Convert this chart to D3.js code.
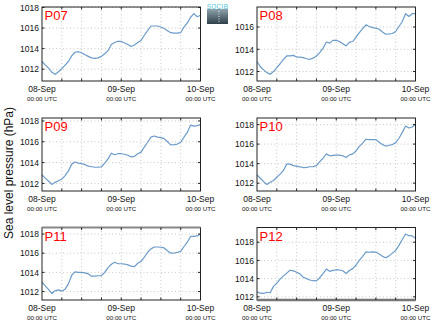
<!DOCTYPE html>
<html><head><meta charset="utf-8">
<script src="https://cdn.jsdelivr.net/npm/d3@7"></script>
<style>
body{margin:0;background:#fff;}
svg{display:block;font-family:"Liberation Sans",Arial,sans-serif;}
</style></head><body>
<svg id="c" width="434" height="327"></svg>
<script>
const panelNames = ["P07","P08","P09","P10","P11","P12"];
const startDate = "2013-09-08T00:00:00Z";
const endDate = "2013-09-10T00:00:00Z";
const hours = d3.range(0, 49); // hourly samples from 08-Sep 00:00 UTC
const xTickLabels = ["08-Sep","09-Sep","10-Sep"];
const xSubLabel = "00:00 UTC";
const yTickValues = [1012, 1014, 1016, 1018];
const yLabel = "Sea level pressure (hPa)";

const p07 = [1012.75,1012.4,1012.1,1011.7,1011.5,1011.75,1012.05,1012.4,1012.75,1013.3,1013.65,1013.7,1013.6,1013.4,1013.25,1013.1,1013.05,1013.1,1013.25,1013.5,1013.8,1014.4,1014.6,1014.72,1014.7,1014.55,1014.4,1014.2,1014.35,1014.6,1014.8,1015.3,1015.75,1016.2,1016.2,1016.2,1016.1,1015.95,1015.75,1015.55,1015.5,1015.5,1015.55,1016.1,1016.5,1017.05,1017.4,1017.1,1017.25];
const p08 = [1012.9,1012.45,1012.15,1011.9,1011.75,1012.0,1012.35,1012.7,1013.1,1013.4,1013.4,1013.45,1013.3,1013.3,1013.25,1013.15,1013.1,1013.2,1013.4,1013.7,1014.1,1014.65,1014.55,1014.8,1014.8,1014.7,1014.5,1014.3,1014.65,1014.7,1015.1,1015.5,1015.85,1016.2,1016.05,1015.95,1015.9,1015.8,1015.55,1015.35,1015.38,1015.42,1015.6,1016.05,1016.5,1017.2,1016.95,1017.2,1017.2];
const p09 = [1012.8,1012.5,1012.2,1011.9,1012.1,1012.25,1012.4,1012.75,1013.2,1013.85,1014.05,1013.95,1013.9,1013.8,1013.65,1013.6,1013.55,1013.56,1013.6,1013.95,1014.35,1014.9,1014.75,1014.85,1014.85,1014.8,1014.7,1014.55,1014.6,1014.85,1015.0,1015.5,1015.95,1016.45,1016.55,1016.45,1016.4,1016.3,1016.0,1015.7,1015.72,1015.78,1015.95,1016.45,1016.9,1017.6,1017.5,1017.55,1017.65];
const p10 = [1012.83,1012.5,1012.15,1011.87,1012.1,1012.27,1012.6,1012.93,1013.3,1013.95,1013.95,1013.8,1013.75,1013.67,1013.6,1013.62,1013.68,1013.7,1013.8,1014.2,1014.55,1015.0,1014.8,1014.85,1014.88,1014.87,1014.8,1014.62,1014.9,1015.0,1015.3,1015.77,1016.1,1016.5,1016.45,1016.45,1016.45,1016.2,1015.95,1015.8,1015.88,1015.95,1016.15,1016.6,1017.2,1017.85,1017.65,1017.75,1018.0];
const p11 = [1012.97,1012.6,1012.2,1011.8,1012.1,1012.17,1012.05,1012.25,1012.8,1013.7,1014.05,1014.0,1014.0,1013.95,1013.85,1013.6,1013.6,1013.65,1013.66,1014.0,1014.5,1014.85,1015.05,1014.9,1014.9,1014.87,1014.78,1014.65,1014.6,1014.95,1015.15,1015.6,1016.1,1016.45,1016.65,1016.65,1016.62,1016.55,1016.25,1016.0,1016.02,1016.08,1016.2,1016.7,1017.15,1017.75,1017.75,1017.8,1018.0];
const p12 = [1012.55,1012.4,1012.37,1012.5,1012.45,1013.15,1013.5,1013.95,1014.3,1014.6,1014.92,1014.85,1014.7,1014.52,1014.15,1014.0,1013.85,1013.77,1013.76,1014.1,1014.55,1015.05,1014.8,1014.9,1014.98,1014.95,1014.87,1014.57,1014.9,1015.1,1015.5,1016.0,1016.45,1016.95,1016.9,1016.95,1016.92,1016.7,1016.45,1016.3,1016.5,1016.8,1017.1,1017.65,1018.3,1018.9,1018.72,1018.7,1018.43];
const seriesList = [p07, p08, p09, p10, p11, p12];

const svg = d3.select("#c");
const colX = [42, 257];
const plotW = 158.5;
const rowY = [7, 118, 227.5];
const rowH = [74, 73, 72.5];

const t0 = new Date(startDate), t1 = new Date(endDate);
const times = hours.map(h => new Date(t0.getTime() + h * 3600e3));

panelNames.forEach((name, i) => {
  const col = i % 2, row = Math.floor(i / 2);
  const x0 = colX[col], y0 = rowY[row], w = plotW, h = rowH[row];
  const vals = seriesList[i];
  const ext = d3.extent(vals);
  const pad = (ext[1] - ext[0]) * 0.11;
  const x = d3.scaleUtc().domain([t0, t1]).range([0, w]);
  const y = d3.scaleLinear().domain([ext[0] - pad, ext[1] + pad]).range([h, 0]);
  const g = svg.append("g").attr("transform", `translate(${x0},${y0})`);
  const yt = yTickValues.filter(v => v >= y.domain()[0] && v <= y.domain()[1]);
  const xt = d3.utcHour.every(6).range(t0, new Date(t1.getTime() + 1));

  // grid
  g.append("g").selectAll("line").data(yt).join("line")
    .attr("x1", 0).attr("x2", w).attr("y1", d => y(d)).attr("y2", d => y(d))
    .attr("stroke", "#c8c8c8").attr("stroke-width", 1).attr("stroke-dasharray", "1,2.5");
  g.append("g").selectAll("line").data(xt.slice(1, -1)).join("line")
    .attr("x1", d => x(d)).attr("x2", d => x(d)).attr("y1", 0).attr("y2", h)
    .attr("stroke", "#c8c8c8").attr("stroke-width", 1).attr("stroke-dasharray", "1,2.5");

  // line
  g.append("path").datum(vals)
    .attr("fill", "none").attr("stroke", "#6b9bc8").attr("stroke-width", 1.2)
    .attr("stroke-linejoin", "round")
    .attr("d", d3.line().x((d, k) => x(times[k])).y(d => y(d)));

  // frame
  g.append("rect").attr("x", 0).attr("y", 0).attr("width", w).attr("height", h)
    .attr("fill", "none").attr("stroke", "#222").attr("stroke-width", 1);
  if (name === "P11") g.append("line").attr("x1", 0).attr("x2", w).attr("y1", 0).attr("y2", 0).attr("stroke", "#888").attr("stroke-width", 2);
  if (name === "P12") g.append("line").attr("x1", 0).attr("x2", w).attr("y1", h).attr("y2", h).attr("stroke", "#777").attr("stroke-width", 2.5);

  // inner ticks
  const tk = g.append("g").attr("stroke", "#222").attr("stroke-width", 1);
  xt.slice(1, -1).forEach(d => {
    tk.append("line").attr("x1", x(d)).attr("x2", x(d)).attr("y1", h).attr("y2", h - 2.5);
    tk.append("line").attr("x1", x(d)).attr("x2", x(d)).attr("y1", 0).attr("y2", 2.5);
  });
  yt.forEach(d => {
    tk.append("line").attr("x1", 0).attr("x2", 2.5).attr("y1", y(d)).attr("y2", y(d));
    tk.append("line").attr("x1", w).attr("x2", w - 2.5).attr("y1", y(d)).attr("y2", y(d));
  });

  // y labels
  const yAxis = d3.axisLeft(y).tickValues(yt).tickSize(0).tickPadding(3).tickFormat(d3.format("d"));
  const ya = g.append("g").call(yAxis);
  ya.select(".domain").remove();
  ya.selectAll("text").attr("font-size", "8.5px").attr("fill", "#111").attr("font-family", "Liberation Sans, Arial, sans-serif");

  // x labels
  const xDays = d3.utcDay.range(t0, new Date(t1.getTime() + 1));
  const xl = g.append("g").attr("font-family", "Liberation Sans, Arial, sans-serif").attr("text-anchor", "middle");
  xDays.forEach((d, k) => {
    xl.append("text").attr("x", x(d)).attr("y", h + 11).attr("font-size", "8.5px").attr("fill", "#111").text(xTickLabels[k]);
    xl.append("text").attr("x", x(d)).attr("y", h + 20).attr("font-size", "6.2px").attr("fill", "#111").text(xSubLabel);
  });

  // panel name
  g.append("text").attr("x", 2.5).attr("y", 13).attr("font-size", "13px").attr("fill", "#f00").text(name);
});

// y axis title
svg.append("text").attr("transform", "translate(13,173) rotate(-90)")
  .attr("text-anchor", "middle").attr("font-size", "12px").attr("fill", "#111").text(yLabel);

// logo
const defs = svg.append("defs");
const lg = defs.append("linearGradient").attr("id", "lg").attr("x1", 0).attr("y1", 0).attr("x2", 0).attr("y2", 1);
lg.append("stop").attr("offset", "0%").attr("stop-color", "#8ea3ad");
lg.append("stop").attr("offset", "100%").attr("stop-color", "#2f404a");
svg.append("rect").attr("x", 207).attr("y", 9).attr("width", 21).attr("height", 15).attr("fill", "url(#lg)");
svg.append("line").attr("x1", 219).attr("x2", 219).attr("y1", 11).attr("y2", 22).attr("stroke", "#fff").attr("stroke-width", 0.8).attr("stroke-dasharray", "1,1.5");
svg.append("text").attr("x", 217.5).attr("y", 8.5).attr("text-anchor", "middle").attr("font-size", "6.5px").attr("fill", "#4cc4d6").attr("letter-spacing", "0.3px").text("SOCIB");
</script></body></html>
